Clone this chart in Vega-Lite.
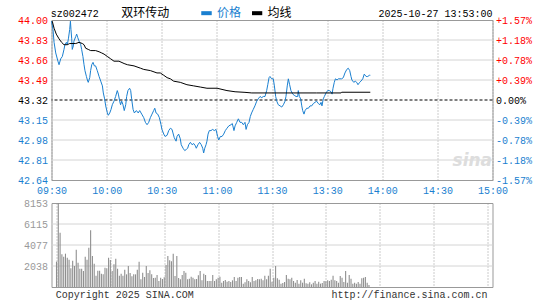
{
  "$schema": "https://vega.github.io/schema/vega-lite/v6.json",
  "background": "white",
  "padding": {"left": 16.5, "top": 5, "right": 0, "bottom": 0},
  "autosize": {"type": "pad"},
  "spacing": 23,
  "bounds": "flush",
  "config": {
    "view": {"stroke": "#999999", "strokeWidth": 1},
    "axis": {"labelFont": "Liberation Mono", "labelFontSize": 10, "ticks": false, "domain": false, "gridDash": [1, 2], "gridColor": "#999999", "gridOpacity": 1, "gridWidth": 1, "title": null, "labelFontWeight": "normal", "labelOverlap": false},
    "text": {"font": "Liberation Mono"}
  },
  "datasets": {
    "price": [
      {"m":0,"p":43.99},{"m":0.8,"p":43.92},{"m":1.4,"p":43.81},{"m":2.3,"p":43.72},{"m":3.5,"p":43.65},{"m":4.1,"p":43.62},{"m":5.0,"p":43.67},{"m":5.9,"p":43.69},{"m":6.8,"p":43.75},{"m":7.3,"p":43.79},
      {"m":8.1,"p":43.81},{"m":8.6,"p":43.79},{"m":9.2,"p":43.84},{"m":9.9,"p":43.92},{"m":10.3,"p":43.99},{"m":10.6,"p":43.92},{"m":11.0,"p":43.84},{"m":11.3,"p":43.75},{"m":11.9,"p":43.78},{"m":12.2,"p":43.82},
      {"m":13.2,"p":43.86},{"m":13.7,"p":43.88},{"m":14.3,"p":43.85},{"m":15.0,"p":43.82},{"m":15.9,"p":43.79},{"m":16.4,"p":43.75},{"m":17.1,"p":43.69},{"m":17.7,"p":43.62},{"m":18.2,"p":43.57},{"m":19.0,"p":43.52},
      {"m":19.7,"p":43.48},{"m":20.0,"p":43.47},{"m":20.8,"p":43.51},{"m":21.3,"p":43.57},{"m":21.9,"p":43.62},{"m":22.6,"p":43.64},{"m":23.3,"p":43.61},{"m":24.0,"p":43.61},{"m":24.9,"p":43.57},{"m":25.9,"p":43.52},
      {"m":26.8,"p":43.48},{"m":27.7,"p":43.44},{"m":28.2,"p":43.38},{"m":28.9,"p":43.33},{"m":29.5,"p":43.27},{"m":30.4,"p":43.21},{"m":30.9,"p":43.19},{"m":31.7,"p":43.21},{"m":32.4,"p":43.24},{"m":33.1,"p":43.28},
      {"m":34.0,"p":43.31},{"m":34.9,"p":43.35},{"m":35.8,"p":43.40},{"m":36.4,"p":43.37},{"m":37.1,"p":43.31},{"m":37.6,"p":43.28},{"m":38.2,"p":43.31},{"m":38.9,"p":43.28},{"m":39.6,"p":43.23},{"m":40.4,"p":43.28},
      {"m":40.9,"p":43.35},{"m":41.6,"p":43.40},{"m":42.5,"p":43.42},{"m":43.1,"p":43.40},{"m":43.6,"p":43.33},{"m":44.4,"p":43.24},{"m":45.1,"p":43.21},{"m":46.2,"p":43.23},{"m":47.2,"p":43.21},{"m":48.0,"p":43.23},
      {"m":49.1,"p":43.20},{"m":50.2,"p":43.17},{"m":51.1,"p":43.13},{"m":52.0,"p":43.11},{"m":52.9,"p":43.13},{"m":53.8,"p":43.17},{"m":54.7,"p":43.20},{"m":55.6,"p":43.23},{"m":56.2,"p":43.25},{"m":56.9,"p":43.21},
      {"m":57.8,"p":43.20},{"m":58.7,"p":43.17},{"m":59.6,"p":43.11},{"m":60.1,"p":43.07},{"m":61.1,"p":43.03},{"m":61.8,"p":43.01},{"m":62.9,"p":43.02},{"m":63.8,"p":43.06},{"m":64.7,"p":43.08},{"m":65.6,"p":43.07},
      {"m":66.1,"p":43.04},{"m":66.8,"p":43.00},{"m":67.8,"p":42.97},{"m":68.3,"p":43.01},{"m":69.2,"p":43.03},{"m":70.1,"p":42.99},{"m":70.6,"p":42.94},{"m":71.6,"p":42.91},{"m":72.5,"p":42.89},{"m":73.4,"p":42.90},
      {"m":74.1,"p":42.91},{"m":74.7,"p":42.94},{"m":75.6,"p":42.96},{"m":76.5,"p":42.94},{"m":77.4,"p":42.95},{"m":78.3,"p":42.93},{"m":78.8,"p":42.91},{"m":79.7,"p":42.94},{"m":80.6,"p":42.96},{"m":81.5,"p":42.94},
      {"m":82.3,"p":42.91},{"m":82.8,"p":42.87},{"m":83.4,"p":42.91},{"m":84.1,"p":42.94},{"m":84.6,"p":42.97},{"m":85.2,"p":43.03},{"m":85.9,"p":43.06},{"m":86.8,"p":43.06},{"m":87.7,"p":43.07},{"m":88.6,"p":43.06},
      {"m":89.5,"p":43.07},{"m":90.4,"p":43.01},{"m":91.0,"p":42.98},{"m":91.9,"p":43.01},{"m":92.8,"p":43.01},{"m":93.7,"p":43.03},{"m":94.6,"p":43.06},{"m":95.5,"p":43.08},{"m":96.5,"p":43.10},{"m":97.7,"p":43.11},
      {"m":98.4,"p":43.12},{"m":99.3,"p":43.06},{"m":99.9,"p":43.10},{"m":100.8,"p":43.13},{"m":101.7,"p":43.16},{"m":102.6,"p":43.13},{"m":103.5,"p":43.13},{"m":104.4,"p":43.11},{"m":105.3,"p":43.13},{"m":105.9,"p":43.07},
      {"m":106.6,"p":43.11},{"m":107.5,"p":43.13},{"m":108.2,"p":43.18},{"m":108.9,"p":43.21},{"m":109.8,"p":43.24},{"m":110.7,"p":43.27},{"m":111.7,"p":43.31},{"m":112.5,"p":43.33},{"m":113.5,"p":43.35},{"m":114.4,"p":43.34},
      {"m":115.3,"p":43.35},{"m":116.2,"p":43.35},{"m":117.1,"p":43.40},{"m":117.7,"p":43.45},{"m":118.4,"p":43.51},{"m":118.9,"p":43.52},{"m":119.8,"p":43.50},{"m":120.7,"p":43.50},{"m":121.3,"p":43.44},{"m":122.0,"p":43.35},
      {"m":122.6,"p":43.31},{"m":123.4,"p":43.28},{"m":124.4,"p":43.27},{"m":125.3,"p":43.26},{"m":126.2,"p":43.28},{"m":127.1,"p":43.31},{"m":127.6,"p":43.35},{"m":128.3,"p":43.44},{"m":128.9,"p":43.50},{"m":129.6,"p":43.45},
      {"m":130.3,"p":43.40},{"m":131.3,"p":43.37},{"m":132.1,"p":43.36},{"m":133.1,"p":43.35},{"m":134.0,"p":43.35},{"m":134.3,"p":43.40},{"m":134.9,"p":43.35},{"m":135.6,"p":43.33},{"m":136.2,"p":43.27},{"m":136.7,"p":43.23},
      {"m":137.4,"p":43.20},{"m":138.0,"p":43.23},{"m":138.9,"p":43.25},{"m":139.8,"p":43.25},{"m":140.7,"p":43.27},{"m":141.6,"p":43.27},{"m":142.5,"p":43.29},{"m":143.4,"p":43.30},{"m":144.3,"p":43.31},{"m":145.2,"p":43.29},
      {"m":146.1,"p":43.28},{"m":146.7,"p":43.30},{"m":147.2,"p":43.27},{"m":147.9,"p":43.33},{"m":148.5,"p":43.35},{"m":149.4,"p":43.38},{"m":150.3,"p":43.40},{"m":151.2,"p":43.40},{"m":152.1,"p":43.39},{"m":152.7,"p":43.37},
      {"m":153.2,"p":43.42},{"m":153.9,"p":43.47},{"m":154.5,"p":43.50},{"m":155.4,"p":43.49},{"m":156.1,"p":43.50},{"m":157.0,"p":43.50},{"m":157.9,"p":43.50},{"m":158.8,"p":43.51},{"m":159.7,"p":43.55},{"m":160.7,"p":43.58},
      {"m":161.5,"p":43.59},{"m":162.3,"p":43.57},{"m":163.0,"p":43.52},{"m":163.5,"p":43.49},{"m":164.5,"p":43.47},{"m":165.3,"p":43.48},{"m":166.1,"p":43.47},{"m":166.8,"p":43.45},{"m":167.7,"p":43.47},{"m":168.4,"p":43.48},
      {"m":169.4,"p":43.50},{"m":170.2,"p":43.54},{"m":171.2,"p":43.52},{"m":172.1,"p":43.52},{"m":173.0,"p":43.53},{"m":173.5,"p":43.53}
    ],
    "avg": [
      {"m":0.4,"a":43.99},{"m":1.4,"a":43.93},{"m":2.6,"a":43.88},{"m":4.1,"a":43.84},{"m":5.5,"a":43.81},{"m":6.8,"a":43.79},{"m":8.6,"a":43.79},{"m":9.9,"a":43.80},{"m":13.2,"a":43.80},{"m":15.0,"a":43.81},
      {"m":16.8,"a":43.80},{"m":17.7,"a":43.79},{"m":18.6,"a":43.76},{"m":20.0,"a":43.75},{"m":21.3,"a":43.74},{"m":24.0,"a":43.74},{"m":25.9,"a":43.73},{"m":27.3,"a":43.72},{"m":28.6,"a":43.71},{"m":30.4,"a":43.69},
      {"m":32.2,"a":43.67},{"m":34.0,"a":43.65},{"m":36.7,"a":43.65},{"m":39.5,"a":43.63},{"m":41.3,"a":43.62},{"m":44.9,"a":43.61},{"m":48.5,"a":43.59},{"m":50.2,"a":43.58},{"m":53.8,"a":43.57},{"m":57.4,"a":43.55},
      {"m":59.2,"a":43.55},{"m":61.1,"a":43.53},{"m":62.9,"a":43.51},{"m":64.7,"a":43.50},{"m":66.5,"a":43.48},{"m":70.1,"a":43.47},{"m":73.7,"a":43.45},{"m":77.4,"a":43.44},{"m":81.0,"a":43.43},{"m":84.6,"a":43.42},
      {"m":90.1,"a":43.42},{"m":95.5,"a":43.40},{"m":99.9,"a":43.39},{"m":105.3,"a":43.385},{"m":109.0,"a":43.38},{"m":144.3,"a":43.38},{"m":157.6,"a":43.38},{"m":157.9,"a":43.386},{"m":173.5,"a":43.386}
    ],
    "vol": [
      {"m":0,"v":2459},{"m":1,"v":8153},{"m":2,"v":5273},{"m":3,"v":3170},{"m":4,"v":2944},{"m":5,"v":3235},{"m":6,"v":2847},{"m":7,"v":2653},{"m":8,"v":1812},{"m":9,"v":2556},
      {"m":10,"v":2038},{"m":11,"v":3623},{"m":12,"v":2362},{"m":13,"v":1779},{"m":14,"v":1779},{"m":15,"v":1553},{"m":16,"v":2944},{"m":17,"v":2653},{"m":18,"v":3817},{"m":19,"v":5500},
      {"m":20,"v":3009},{"m":21,"v":2265},{"m":22,"v":1100},{"m":23,"v":1585},{"m":24,"v":1585},{"m":25,"v":1294},{"m":26,"v":1229},{"m":27,"v":1876},{"m":28,"v":1812},{"m":29,"v":2847},
      {"m":30,"v":2620},{"m":31,"v":1553},{"m":32,"v":2200},{"m":33,"v":2750},{"m":34,"v":1779},{"m":35,"v":1100},{"m":36,"v":1294},{"m":37,"v":1100},{"m":38,"v":1682},{"m":39,"v":1229},
      {"m":40,"v":2038},{"m":41,"v":1359},{"m":42,"v":1035},{"m":43,"v":1229},{"m":44,"v":1229},{"m":45,"v":1682},{"m":46,"v":2459},{"m":47,"v":744},{"m":48,"v":1391},{"m":49,"v":971},
      {"m":50,"v":2038},{"m":51,"v":1359},{"m":52,"v":1618},{"m":53,"v":1229},{"m":54,"v":873},{"m":55,"v":906},{"m":56,"v":1165},{"m":57,"v":582},{"m":58,"v":906},{"m":59,"v":776},
      {"m":60,"v":938},{"m":61,"v":2135},{"m":62,"v":3009},{"m":63,"v":2588},{"m":64,"v":2491},{"m":65,"v":3235},{"m":66,"v":1068},{"m":67,"v":3009},{"m":68,"v":873},{"m":69,"v":744},
      {"m":70,"v":1165},{"m":71,"v":1553},{"m":72,"v":1391},{"m":73,"v":744},{"m":74,"v":809},{"m":75,"v":1003},{"m":76,"v":906},{"m":77,"v":744},{"m":78,"v":776},{"m":79,"v":1132},
      {"m":80,"v":1553},{"m":81,"v":647},{"m":82,"v":1294},{"m":83,"v":1165},{"m":84,"v":582},{"m":85,"v":582},{"m":86,"v":582},{"m":87,"v":1165},{"m":88,"v":582},{"m":89,"v":744},
      {"m":90,"v":906},{"m":91,"v":1003},{"m":92,"v":421},{"m":93,"v":582},{"m":94,"v":679},{"m":95,"v":518},{"m":96,"v":582},{"m":97,"v":485},{"m":98,"v":647},{"m":99,"v":971},
      {"m":100,"v":582},{"m":101,"v":906},{"m":102,"v":971},{"m":103,"v":971},{"m":104,"v":324},{"m":105,"v":453},{"m":106,"v":744},{"m":107,"v":582},{"m":108,"v":453},{"m":109,"v":971},
      {"m":110,"v":582},{"m":111,"v":647},{"m":112,"v":776},{"m":113,"v":744},{"m":114,"v":809},{"m":115,"v":647},{"m":116,"v":1100},{"m":117,"v":744},{"m":118,"v":1100},{"m":119,"v":1779},
      {"m":120,"v":518},{"m":121,"v":906},{"m":122,"v":2038},{"m":123,"v":841},{"m":124,"v":712},{"m":125,"v":324},{"m":126,"v":388},{"m":127,"v":485},{"m":128,"v":1165},{"m":129,"v":809},
      {"m":130,"v":744},{"m":131,"v":906},{"m":132,"v":582},{"m":133,"v":421},{"m":134,"v":679},{"m":135,"v":324},{"m":136,"v":647},{"m":137,"v":421},{"m":138,"v":809},{"m":139,"v":356},
      {"m":140,"v":324},{"m":141,"v":453},{"m":142,"v":259},{"m":143,"v":421},{"m":144,"v":582},{"m":145,"v":324},{"m":146,"v":518},{"m":147,"v":324},{"m":148,"v":388},{"m":149,"v":582},
      {"m":150,"v":550},{"m":151,"v":647},{"m":152,"v":582},{"m":153,"v":712},{"m":154,"v":1100},{"m":155,"v":647},{"m":156,"v":582},{"m":157,"v":421},{"m":158,"v":1068},{"m":159,"v":906},
      {"m":160,"v":485},{"m":161,"v":1553},{"m":162,"v":421},{"m":163,"v":1165},{"m":164,"v":809},{"m":165,"v":324},{"m":166,"v":421},{"m":167,"v":324},{"m":168,"v":485},{"m":169,"v":324},
      {"m":170,"v":841},{"m":171,"v":906},{"m":172,"v":971},{"m":173,"v":421},{"m":174,"v":194}
    ]
  },
  "vconcat": [
    {
      "width": 441,
      "height": 160,
      "resolve": {"scale": {"y": "independent"}},
      "layer": [
        {
          "data": {"values": [{"level": 42.81}, {"level": 42.98}, {"level": 43.15}, {"level": 43.49}, {"level": 43.66}, {"level": 43.83}]},
          "mark": {"type": "rule", "color": "#d4d4d4", "strokeWidth": 1},
          "encoding": {"y": {"field": "level", "type": "quantitative", "scale": {"domain": [42.64, 44], "nice": false, "zero": false}, "axis": null}}
        },
        {
          "encoding": {
            "y": {"scale": {"domain": [42.64, 44], "nice": false, "zero": false}, "axis": null}
          },
          "layer": [
            {
              "data": {"values": [{"base": 43.32}]},
              "mark": {"type": "rule", "color": "#000000", "strokeWidth": 1, "strokeDash": [3, 2]},
              "encoding": {"y": {"field": "base", "type": "quantitative"}}
            },
            {
              "data": {"values": [{"label": "sz002472"}]},
              "mark": {"type": "text", "align": "left", "baseline": "middle", "font": "Liberation Mono", "fontSize": 10, "color": "#000000"},
              "encoding": {"text": {"field": "label"}, "x": {"datum": -0.4}, "y": {"datum": 44.055}}
            },
            {
              "data": {"values": [{"label": "双环传动"}]},
              "mark": {"type": "text", "align": "left", "baseline": "top", "font": "Noto Sans CJK SC", "fontSize": 12, "color": "#000000"},
              "encoding": {"text": {"field": "label"}, "x": {"datum": 37.9}, "y": {"datum": 44.10625}}
            },
            {
              "data": {"values": [{"label": "价格"}]},
              "mark": {"type": "rule", "color": "#1a7fd0", "strokeWidth": 4},
              "encoding": {"x": {"datum": 81.5}, "x2": {"datum": 87.2}, "y": {"datum": 44.058}}
            },
            {
              "data": {"values": [{"label": "价格"}]},
              "mark": {"type": "text", "align": "left", "baseline": "top", "font": "Noto Sans CJK SC", "fontSize": 12, "color": "#1a7fd0"},
              "encoding": {"text": {"field": "label"}, "x": {"datum": 90.1}, "y": {"datum": 44.10625}}
            },
            {
              "data": {"values": [{"label": "均线"}]},
              "mark": {"type": "rule", "color": "#000000", "strokeWidth": 4},
              "encoding": {"x": {"datum": 109.1}, "x2": {"datum": 114.7}, "y": {"datum": 44.058}}
            },
            {
              "data": {"values": [{"label": "均线"}]},
              "mark": {"type": "text", "align": "left", "baseline": "top", "font": "Noto Sans CJK SC", "fontSize": 12, "color": "#000000"},
              "encoding": {"text": {"field": "label"}, "x": {"datum": 117.6}, "y": {"datum": 44.10625}}
            },
            {
              "data": {"values": [{"label": "2025-10-27 13:53:00"}]},
              "mark": {"type": "text", "align": "right", "baseline": "middle", "font": "Liberation Mono", "fontSize": 10, "color": "#000000"},
              "encoding": {"text": {"field": "label"}, "x": {"datum": 240}, "y": {"datum": 44.055}}
            },
            {
              "data": {"values": [{"label": "sina"}]},
              "mark": {"type": "text", "align": "center", "baseline": "middle", "font": "DejaVu Sans", "fontSize": 17, "fontStyle": "italic", "fontWeight": "bold", "color": "#dddddd"},
              "encoding": {"text": {"field": "label"}, "x": {"datum": 229}, "y": {"datum": 42.8}}
            }
          ]
        },
        {
          "data": {"name": "price"},
          "mark": {"type": "line", "color": "#1a7fd0", "strokeWidth": 1},
          "encoding": {
            "x": {"field": "m", "type": "quantitative", "scale": {"domain": [0, 240], "nice": false, "zero": false},
              "axis": {"values": [0, 30, 60, 90, 120, 150, 180, 210, 240], "labelExpr": "['09:30','10:00','10:30','11:00','11:30','13:30','14:00','14:30','15:00'][round(datum.value/30)]", "labelColor": "#1a7fd0", "labelFlush": false, "labelOverlap": false, "labelPadding": 5, "grid": true}},
            "y": {"field": "p", "type": "quantitative", "scale": {"domain": [42.64, 44], "nice": false, "zero": false},
              "axis": {"orient": "left", "values": [42.64, 42.81, 42.98, 43.15, 43.32, 43.49, 43.66, 43.83, 44.0], "format": ".2f", "labelPadding": 4, "labelOverlap": false, "grid": false,
                "labelColor": {"condition": [{"test": "datum.value > 43.325", "value": "#ff0000"}, {"test": "datum.value < 43.315", "value": "#1a7fd0"}], "value": "#000000"}}}
          }
        },
        {
          "data": {"name": "avg"},
          "mark": {"type": "line", "color": "#000000", "strokeWidth": 1},
          "encoding": {
            "x": {"field": "m", "type": "quantitative"},
            "y": {"field": "a", "type": "quantitative", "scale": {"domain": [42.64, 44], "nice": false, "zero": false},
              "axis": {"orient": "right", "values": [42.64, 42.81, 42.98, 43.15, 43.32, 43.49, 43.66, 43.83, 44.0], "grid": false, "labelPadding": 3, "labelOverlap": false,
                "labelExpr": "(datum.value > 43.325 ? '+' : datum.value < 43.315 ? '-' : '') + format(abs(datum.value - 43.32) / 43.32 * 100, '.2f') + '%'",
                "labelColor": {"condition": [{"test": "datum.value > 43.325", "value": "#ff0000"}, {"test": "datum.value < 43.315", "value": "#1a7fd0"}], "value": "#000000"}}}
          }
        }
      ]
    },
    {
      "width": 441,
      "height": 84,
      "resolve": {"scale": {"y": "independent"}},
      "layer": [
        {
          "data": {"values": [{"level": 2038.25}, {"level": 4076.5}, {"level": 6114.75}]},
          "mark": {"type": "rule", "color": "#d4d4d4", "strokeWidth": 1},
          "encoding": {"y": {"field": "level", "type": "quantitative", "scale": {"domain": [0, 8153], "nice": false}, "axis": null}}
        },
        {
          "encoding": {
            "y": {"scale": {"domain": [0, 8153], "nice": false}, "axis": null}
          },
          "layer": [
            {
              "data": {"values": [{"label": "Copyright 2025 SINA.COM"}]},
              "mark": {"type": "text", "align": "left", "baseline": "middle", "font": "Liberation Mono", "fontSize": 10, "color": "#333333"},
              "encoding": {"text": {"field": "label"}, "x": {"datum": -0.4}, "y": {"datum": -796}}
            },
            {
              "data": {"values": [{"label": "http://finance.sina.com.cn"}]},
              "mark": {"type": "text", "align": "right", "baseline": "middle", "font": "Liberation Mono", "fontSize": 10, "color": "#333333"},
              "encoding": {"text": {"field": "label"}, "x": {"datum": 240}, "y": {"datum": -796}}
            }
          ]
        },
        {
          "data": {"name": "vol"},
          "mark": {"type": "bar", "color": "#8f8f8f", "width": 1.1},
          "encoding": {
            "x": {"field": "m", "type": "quantitative", "scale": {"domain": [0, 240], "nice": false, "zero": false},
              "axis": {"values": [0, 30, 60, 90, 120, 150, 180, 210, 240], "labels": false, "grid": true}},
            "y": {"field": "v", "type": "quantitative", "scale": {"domain": [0, 8153], "nice": false},
              "axis": {"orient": "left", "values": [2038.25, 4076.5, 6114.75, 8153], "format": "d", "labelColor": "#999999", "labelPadding": 4, "grid": false, "labelOverlap": false}}
          }
        }
      ]
    }
  ]
}
